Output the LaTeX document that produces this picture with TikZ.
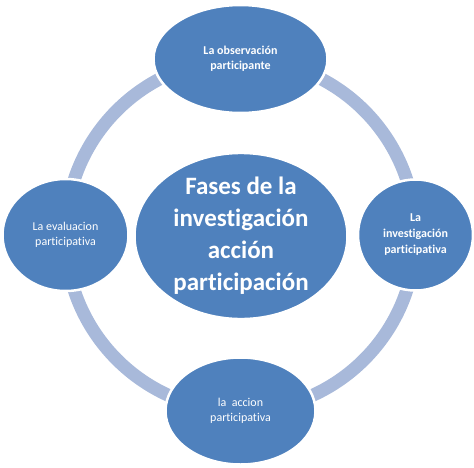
\documentclass[tikz,border=0pt]{standalone}
\usepackage{fontspec}
\setmainfont{Carlito}[Ligatures=NoCommon]
\usetikzlibrary{shapes.geometric,backgrounds}
\definecolor{azulfase}{RGB}{79,129,189}
\definecolor{azulanillo}{RGB}{168,185,218}
\begin{document}
\begin{tikzpicture}[x=1pt, y=1pt,
  fase/.style={ellipse, fill=azulfase, draw=white, line width=2.5pt, inner sep=0pt, text=white, align=center, font=\fontsize{12}{15}\selectfont},
  anillo/.style={draw=azulanillo, line width=13pt, bend left=45}]
\useasboundingbox (-240.5,-232) rectangle (233.5,235);
% Nodos
\node [fase, minimum width=213pt, minimum height=158pt, font=\bfseries\fontsize{25}{32}\selectfont] (F) at (0.5,-1) {Fases de la\\investigación\\acción\\participación};
\node [fase, minimum width=174pt, minimum height=108pt, font=\bfseries\fontsize{12}{15}\selectfont] (O) at (90:176) {La observación\\participante};
\node [fase, minimum width=115pt, minimum height=111pt, font=\bfseries\fontsize{12}{16}\selectfont] (I) at (0:175) {La\\investigación\\participativa};
\node [fase, minimum width=150pt, minimum height=107pt] (A) at (270:176) {la\ \ accion\\participativa};
\node [fase, minimum width=126pt, minimum height=112pt] (E) at (180:175) {La evaluacion\\participativa};
% Anillo
\begin{scope}[on background layer]
\path (O.center) edge [anillo] (I.center);
\path (I.center) edge [anillo] (A.center);
\path (A.center) edge [anillo] (E.center);
\path (E.center) edge [anillo] (O.center);
\end{scope}
\end{tikzpicture}
\end{document}
